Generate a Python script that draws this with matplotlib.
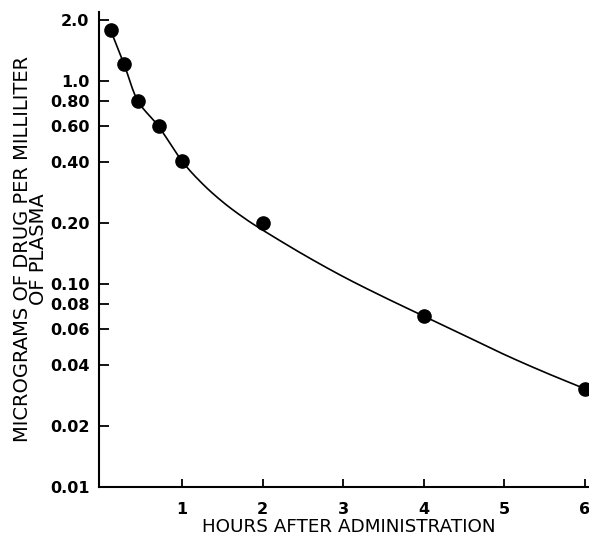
import matplotlib
matplotlib.use("Agg")
import numpy as np
import matplotlib.pyplot as plt
from matplotlib.ticker import FixedLocator, FixedFormatter, NullLocator

# Measured data points
hours = [0.114, 0.28, 0.45, 0.71, 1.0, 2.0, 4.0, 6.0]
conc = [1.79, 1.22, 0.805, 0.60, 0.405, 0.20, 0.0695, 0.0305]

# Fitted curve
curve_x = [0.114, 0.28, 0.45, 0.71, 1.0, 1.25, 1.5, 1.75, 2.0, 2.5, 3.0,
           3.5, 4.0, 4.5, 5.0, 5.5, 6.0]
curve_y = [1.79, 1.22, 0.805, 0.60, 0.405, 0.314, 0.2555, 0.215, 0.185, 0.1405, 0.109,
           0.0866, 0.0696, 0.0560, 0.0450, 0.0368, 0.0305]

yticks = [0.01, 0.02, 0.04, 0.06, 0.08, 0.10, 0.20, 0.40, 0.60, 0.80, 1.0, 2.0]
ytick_labels = ["0.01", "0.02", "0.04", "0.06", "0.08", "0.10", "0.20", "0.40",
                "0.60", "0.80", "1.0", "2.0"]
xticks = [1, 2, 3, 4, 5, 6]
xtick_labels = ["1", "2", "3", "4", "5", "6"]


def smooth_path(xs, ys, n=20):
    """Catmull-Rom drawing of the read curve points (in log-y space)."""
    px = np.asarray(xs, float)
    py = np.log10(np.asarray(ys, float))
    px = np.concatenate([[2*px[0]-px[1]], px, [2*px[-1]-px[-2]]])
    py = np.concatenate([[2*py[0]-py[1]], py, [2*py[-1]-py[-2]]])
    ox, oy = [], []
    t = np.linspace(0, 1, n, endpoint=False)
    for i in range(1, len(px)-2):
        for arr, out in ((px, ox), (py, oy)):
            p0, p1, p2, p3 = arr[i-1], arr[i], arr[i+1], arr[i+2]
            out.extend(0.5*((2*p1) + (-p0+p2)*t + (2*p0-5*p1+4*p2-p3)*t**2
                            + (-p0+3*p1-3*p2+p3)*t**3))
    ox.append(px[-2]); oy.append(py[-2])
    return np.array(ox), 10**np.array(oy)


plt.rcParams['font.family'] = ['DejaVu Sans']

W, H = 589, 537
fig = plt.figure(figsize=(W/100, H/100), dpi=100)
ax = fig.add_axes([99/W, 50/H, 490/W, 475/H])

sx, sy = smooth_path(curve_x, curve_y)
ax.plot(sx, sy, color='black', lw=1.2, zorder=2)
ax.plot(hours, conc, 'o', color='black', markersize=9.5, zorder=3, clip_on=False)

ax.set_yscale('log')
ax.set_xlim(-0.03, 6.05)
ax.set_ylim(0.01, 2.2)

ax.yaxis.set_major_locator(FixedLocator(yticks))
ax.yaxis.set_major_formatter(FixedFormatter(ytick_labels))
ax.yaxis.set_minor_locator(NullLocator())
ax.set_xticks(xticks)
ax.set_xticklabels(xtick_labels)

for s in ['top', 'right']:
    ax.spines[s].set_visible(False)
for s in ['left', 'bottom']:
    ax.spines[s].set_linewidth(1.5)

ax.tick_params(axis='y', direction='in', length=7, width=1.3, pad=7, labelsize=11.5)
ax.tick_params(axis='x', direction='in', length=6, width=1.3, pad=11, labelsize=11.5)
for lab in ax.get_yticklabels() + ax.get_xticklabels():
    lab.set_fontweight('bold')

fig.text(349/W, (H-532)/H, "HOURS AFTER ADMINISTRATION", fontsize=13.2,
         ha='center', va='baseline')
fig.text(31/W, 1-249/H, "MICROGRAMS OF DRUG PER MILLILITER\nOF PLASMA",
         fontsize=14, rotation=90, ha='center', va='center',
         multialignment='center', linespacing=0.8)

fig.savefig("out.png", dpi=100)
